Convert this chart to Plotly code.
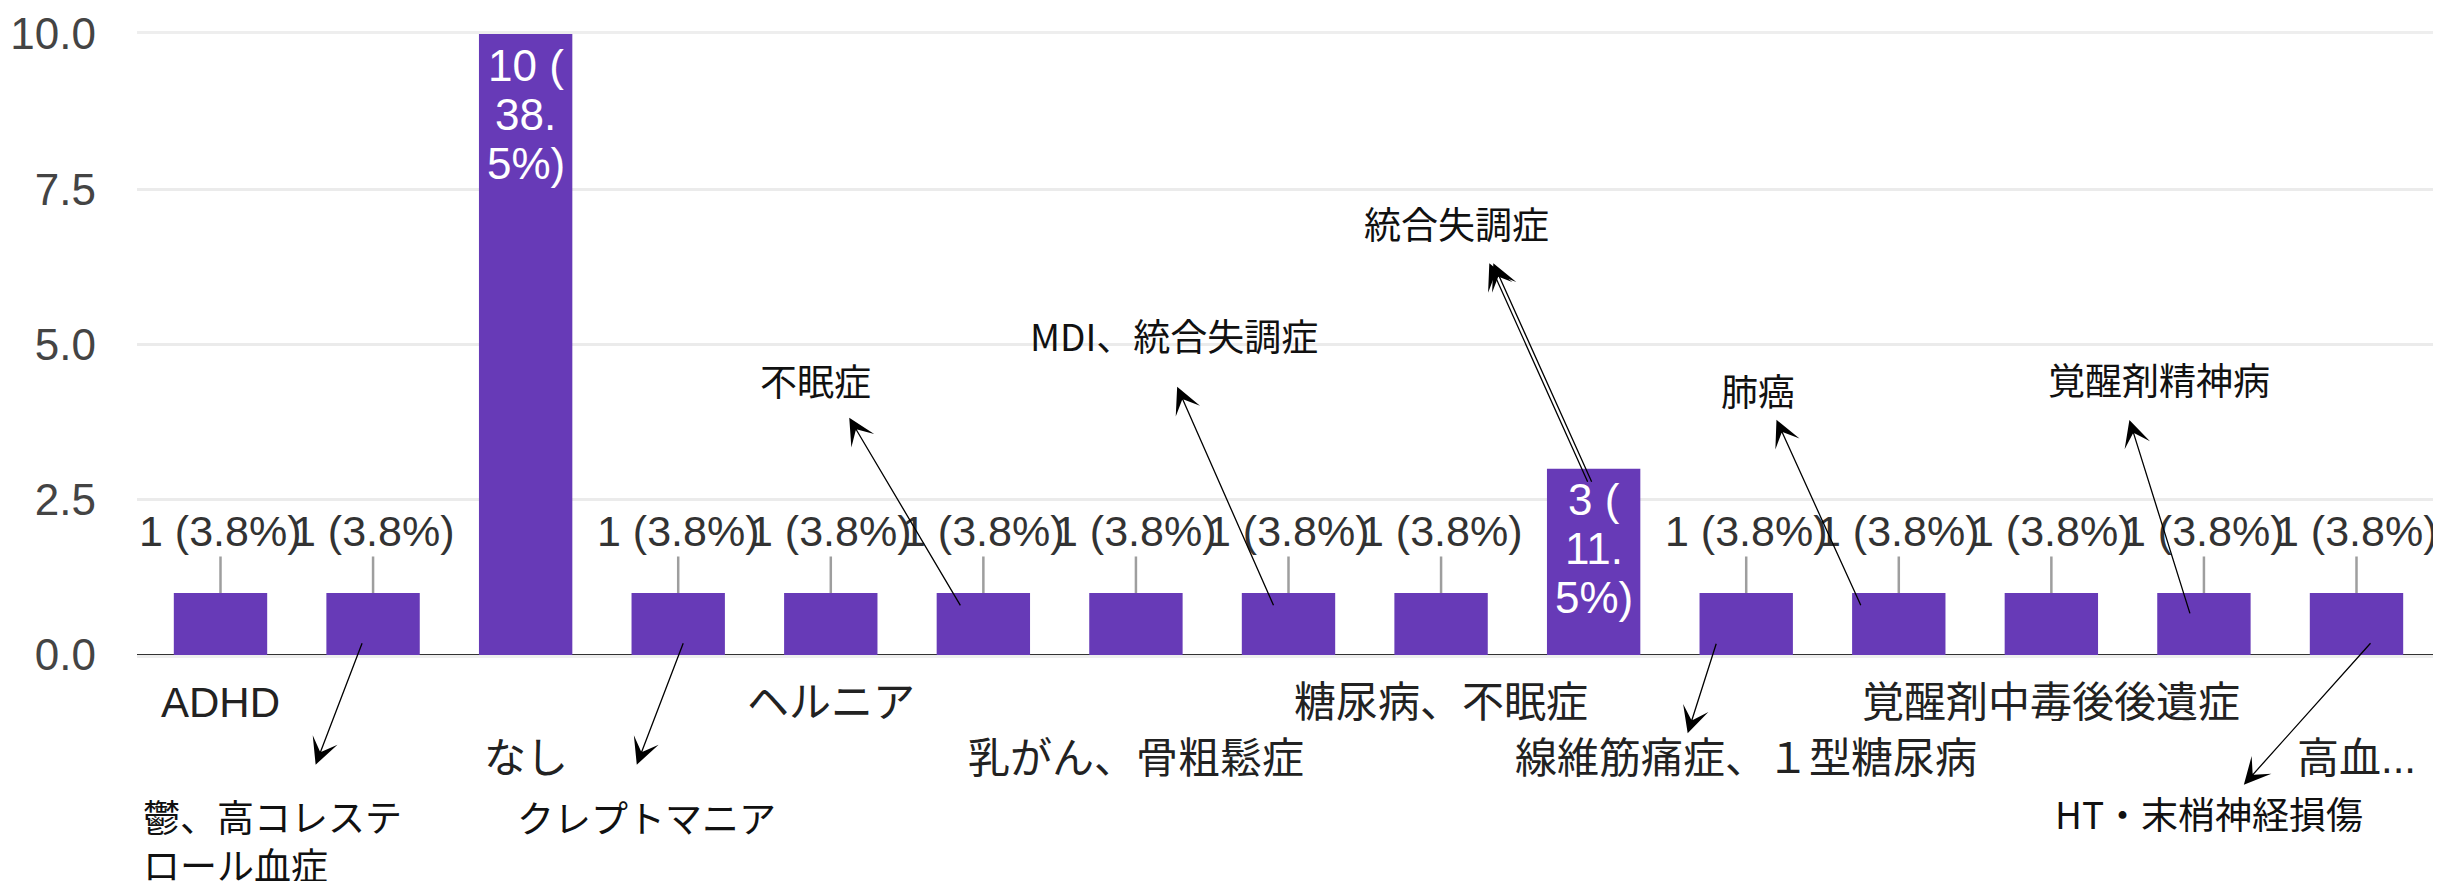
import plotly.graph_objects as go

# ---------------- data ----------------
categories = ["ADHD", "鬱、高コレステロール血症", "なし", "クレプトマニア", "ヘルニア",
              "不眠症", "乳がん、骨粗鬆症", "MDI、統合失調症", "糖尿病、不眠症", "統合失調症",
              "線維筋痛症、１型糖尿病", "肺癌", "覚醒剤中毒後後遺症", "覚醒剤精神病", "高血..."]
counts = [1, 1, 10, 1, 1, 1, 1, 1, 1, 3, 1, 1, 1, 1, 1]

# labels shown under the axis: (category index, text, row)
axis_labels = [(0, "ADHD", 1), (2, "なし", 2), (4, "ヘルニア", 1), (6, "乳がん、骨粗鬆症", 2),
               (8, "糖尿病、不眠症", 1), (10, "線維筋痛症、１型糖尿病", 2),
               (12, "覚醒剤中毒後後遺症", 1), (14, "高血...", 2)]
# call-out labels: (category index, text)
callout_labels = [(1, "鬱、高コレステ<br>ロール血症"), (3, "クレプトマニア"), (5, "不眠症"),
                  (7, "MDI、統合失調症"), (9, "統合失調症"), (11, "肺癌"),
                  (13, "覚醒剤精神病"), (14, "HT・末梢神経損傷")]
yticks = [0, 2.5, 5, 7.5, 10]

# ---------------- styles ----------------
BAR = "#673ab7"
LATIN = "Liberation Sans, Arial, Noto Sans CJK JP"
CJK = "Noto Sans CJK JP, Noto Sans CJK SC"
total = sum(counts)

# call-out text placement (xshift, yshift from baseline, xanchor)
callout_pos = {1: (-232, -185, "left"), 3: (-32, -162, "center"), 5: (-168, 275, "center"),
               7: (-115, 320, "center"), 9: (-137, 432, "center"), 11: (-141, 265, "center"),
               13: (-45, 276, "center"), 14: (-148, -158, "center")}
# arrows: (category index, tail value, tail xshift, head dx, head dy)
arrows = [(1, 0.19, -11, -47, 123), (3, 0.19, 5, -47, 123), (5, 0.8, -23, -112, -189),
          (7, 0.8, -15, -97, -220), (9, 2.79, -6, -99, -220), (9, 2.79, -2, -99, -220),
          (10, 0.18, -30, -29, 91), (11, 0.8, -38, -85, -187), (13, 0.67, -14, -61, -195),
          (14, 0.19, 14, -128, 143)]

fig = go.Figure()
fig.add_trace(go.Bar(x=categories, y=counts, marker=dict(color=BAR, line=dict(width=0)),
                     hoverinfo="skip"))

ann = []
for i, (c, v) in enumerate(zip(categories, counts)):
    pct = f"{v / total * 100:.1f}"
    if v >= 3:
        a, b = pct.split(".")
        lines = [f"{v} (", f"{a}.", f"{b}%)"]
        for k, ln in enumerate(lines):
            ann.append(dict(x=c, y=v, xref="x", yref="y", text=ln, showarrow=False,
                            xanchor="center", yanchor="middle", yshift=-(31 + 49 * k),
                            font=dict(family=LATIN, size=44, color="#ffffff")))
    else:
        ann.append(dict(x=c, y=v, xref="x", yref="y", text=f"{v} ({pct}%)", showarrow=True,
                        arrowhead=0, arrowwidth=2.5, arrowcolor="#9e9e9e", ax=0, ay=-62,
                        font=dict(family=LATIN, size=43, color="#333333")))

for idx, txt, row in axis_labels:
    ann.append(dict(x=categories[idx], y=0, xref="x", yref="y", text=txt, showarrow=False,
                    xanchor="center", yanchor="middle", yshift=-47 if row == 1 else -103,
                    font=dict(family=LATIN, size=42, color="#222222")))

for idx, txt in callout_labels:
    xs, ys, xa = callout_pos[idx]
    ann.append(dict(x=categories[idx], y=0, xref="x", yref="y", text=txt, showarrow=False,
                    xanchor=xa, yanchor="middle", xshift=xs, yshift=ys, align="left",
                    font=dict(family=CJK, size=37, color="#111111")))

for idx, tv, dx, hx, hy in arrows:
    ann.append(dict(x=categories[idx], y=tv, xref="x", yref="y", text="", showarrow=True,
                    xshift=dx, ax=hx, ay=hy, arrowside="start", startarrowhead=3,
                    startarrowsize=3.4, arrowwidth=1.3, arrowcolor="#000000",
                    startstandoff=0, standoff=0))

# the page body has an 8px margin, so the figure is sized to the window minus that offset
fig.update_layout(
    width=2433, height=873,
    margin=dict(l=129, r=1, t=20, b=226),
    paper_bgcolor="white", plot_bgcolor="white",
    bargap=0.388, showlegend=False,
    annotations=ann,
    xaxis=dict(showticklabels=False, ticks="", showgrid=False, showline=True, mirror=True,
               linecolor="#eeeeee", linewidth=3, fixedrange=True),
    yaxis=dict(range=[0, 10], tickvals=yticks, tickformat=".1f", showgrid=True,
               gridcolor="#ebebeb", gridwidth=3, zeroline=True, zerolinecolor="#333333",
               zerolinewidth=3, ticks="", ticklabelstandoff=40, ticklabeloverflow="allow",
               tickfont=dict(family=LATIN, size=44, color="#444444")),
)

fig.write_html("out.html")
